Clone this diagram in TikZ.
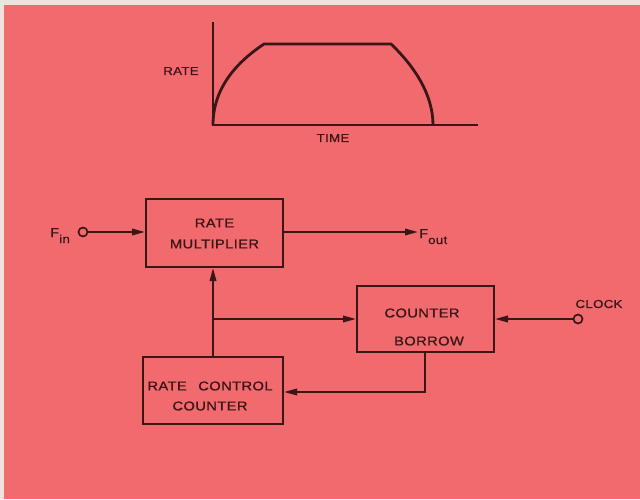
\documentclass[tikz,border=0pt]{standalone}
\usepackage{fontspec}
\setmainfont[FakeStretch=1.15,LetterSpace=3,FakeBold=0.8]{Liberation Sans}
\usetikzlibrary{arrows.meta}
\definecolor{bg}{RGB}{241,106,110}
\definecolor{edge}{RGB}{238,226,222}
\definecolor{ink}{RGB}{58,22,22}
\tikzset{
  ln/.style={draw=ink,line width=1.9pt},
  arr/.style={ln,-{Triangle[length=13pt,width=6.5pt]}},
  blk/.style={draw=ink,line width=2pt,rectangle,inner sep=0pt},
  lbl/.style={text=ink,font=\fontsize{12.8}{14}\selectfont,inner sep=0pt},
  slbl/.style={text=ink,font=\fontsize{11.5}{13}\selectfont,inner sep=0pt},
  term/.style={circle,draw=ink,line width=1.7pt,fill=bg,minimum size=9pt,inner sep=0pt}
}
\begin{document}
\begin{tikzpicture}[x=1pt,y=-1pt]
\useasboundingbox (0,0) rectangle (640,499);
\fill[edge] (0,0) rectangle (640,499);
\fill[bg] (4,5) rectangle (640,499);
% rate chart
\coordinate (o) at (213,125);
\coordinate (ytop) at (213,22);
\coordinate (xend) at (478,125);
\draw[ln,line width=1.6pt] (ytop) -- (o) -- (xend);
\draw[ln,line width=2.8pt,line join=miter] (o) .. controls (213,90) and (234,64) .. (264,44) -- (391,44) .. controls (414,66) and (433,94) .. (433,125);
\node[slbl] (rate) at (181,71) {RATE};
\node[slbl] (time) at (333,138) {TIME};
% blocks
\node[blk,minimum width=137pt,minimum height=68pt] (rm) at (214.5,233) {};
\node[lbl] (rmt1) at (214.5,223) {RATE};
\node[lbl] (rmt2) at (214.5,244) {MULTIPLIER};
\node[blk,minimum width=137pt,minimum height=66pt] (cb) at (425.5,319) {};
\node[lbl] (cbt1) at (422,313) {COUNTER};
\node[lbl] (cbt2) at (429,341) {BORROW};
\node[blk,minimum width=140pt,minimum height=67pt] (rcc) at (213,390.5) {};
\node[lbl] (rcct1) at (210,386) {RATE\hspace{0.9em}CONTROL};
\node[lbl] (rcct2) at (210,406) {COUNTER};
% terminals
\node[term] (fin) at (83,232) {};
\node[lbl,anchor=base west] (finl) at (50,237) {F\raisebox{-6pt}{\fontsize{11.5}{12}\selectfont in}};
\coordinate (fout) at (418,232);
\node[lbl,anchor=base west] (foutl) at (419,238) {F\raisebox{-6pt}{\fontsize{11.5}{12}\selectfont out}};
\node[term] (clk) at (578,319) {};
\node[slbl] (clkl) at (599,304) {CLOCK};
% connectors
\draw[arr] (fin) -- (rm.west |- fin);
\draw[arr] (rm.east |- fout) -- (fout);
\coordinate (j) at (213,319);
\draw[arr] (rcc.north) -- (rcc.north |- rm.south);
\draw[arr] (j) -- (j -| cb.west);
\draw[arr] (clk) -- (cb.east |- clk);
\coordinate (b1) at (425,392);
\draw[arr] (b1 |- cb.south) -- (b1) -- (b1 -| rcc.east);
\end{tikzpicture}
\end{document}
